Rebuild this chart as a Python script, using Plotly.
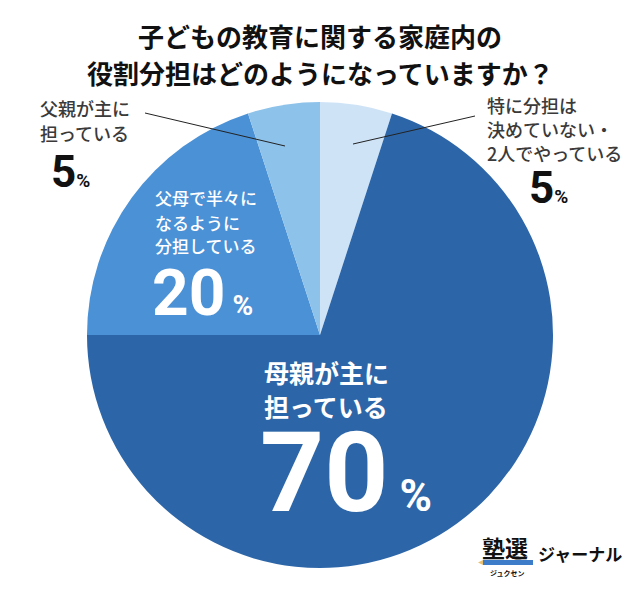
import plotly.graph_objects as go

W, H = 640, 595
categories = ["特に分担は決めていない・2人でやっている", "母親が主に担っている", "父母で半々になるように分担している", "父親が主に担っている"]
values = [5, 70, 20, 5]
colors = ["#CFE3F7", "#2D66A8", "#4B91D6", "#8DC2EA"]
title_lines = ["子どもの教育に関する家庭内の", "役割分担はどのようになっていますか？"]

JP = "Noto Sans CJK JP"
NUM = "Liberation Sans Narrow, Roboto, Arial"

def px(x):
    return x / W

def py(y):
    return 1 - y / H

cx, cy, r = 320, 335, 233

fig = go.Figure(go.Pie(
    labels=categories, values=values, sort=False, direction="clockwise", rotation=0,
    marker=dict(colors=colors, line=dict(width=0)), textinfo="none", hoverinfo="label+percent",
    domain=dict(x=[px(cx - r), px(cx + r)], y=[py(cy + r), py(cy - r)]),
    showlegend=False,
))

ann = []
def text(x, y, s, size, color="#333333", font=JP, anchor="left", yanchor="middle", weight=None):
    f = dict(size=size, color=color, family=font)
    if weight:
        f["weight"] = weight
    ann.append(dict(x=px(x), y=py(y), xref="paper", yref="paper", text=s, showarrow=False,
                    xanchor=anchor, yanchor=yanchor, font=f))

# title
text(320, 35, "<b>" + title_lines[0] + "</b>", 26, "#111111", anchor="center")
text(320, 72, "<b>" + title_lines[1] + "</b>", 26, "#111111", anchor="center")

# left outer label
text(38, 108, "父親が主に", 18, "#3a3a3a", weight=500)
text(38, 133, "担っている", 18, "#3a3a3a", weight=500)
text(49, 172, f"<b>{values[3]}</b><span style='font-size:19px'><b>%</b></span>", 44, "#111111", font=NUM)

# right outer label
text(485, 105, "特に分担は", 18, "#3a3a3a", weight=500)
text(485, 129, "決めていない・", 18, "#3a3a3a", weight=500)
text(485, 153, "2人でやっている", 18, "#3a3a3a", weight=500)
text(527, 188, f"<b>{values[0]}</b><span style='font-size:19px'><b>%</b></span>", 44, "#111111", font=NUM)

# medium slice label
text(153, 198, "父母で半々に", 17, "white", weight=500)
text(153, 222, "なるように", 17, "white", weight=500)
text(153, 246, "分担している", 17, "white", weight=500)
text(150, 293, f"<b>{values[2]}</b><span style='font-size:28px'><b> %</b></span>", 64, "white", font="Roboto")

# dark slice label
text(262, 372, "<b>母親が主に</b>", 25, "white")
text(262, 406, "<b>担っている</b>", 25, "white")
text(258, 473, f"<b>{values[1]}</b><span style='font-size:44px'><b> %</b></span>", 112, "white", font="Roboto")

# logo
text(480, 547, "<b>塾選</b>", 23, "#111111")
text(536, 553, "<b>ジャーナル</b>", 17, "#111111")
text(507, 573, "<b>ジュクセン</b>", 7, "#111111", anchor="center")

shapes = [
    dict(type="line", xref="paper", yref="paper", x0=px(145), y0=py(113), x1=px(285), y1=py(146),
         line=dict(color="#222222", width=1)),
    dict(type="line", xref="paper", yref="paper", x0=px(475), y0=py(116), x1=px(353), y1=py(144),
         line=dict(color="#222222", width=1)),
    dict(type="rect", xref="paper", yref="paper", x0=px(483), y0=py(565), x1=px(533), y1=py(560),
         fillcolor="#3D7CC9", line=dict(width=0)),
    dict(type="path", xref="paper", yref="paper",
         path=f"M {px(478)} {py(562.5)} L {px(483)} {py(560)} L {px(483)} {py(565)} Z",
         fillcolor="#E8C070", line=dict(width=0)),
]

fig.update_layout(width=W, height=H, margin=dict(l=0, r=0, t=0, b=0),
                  paper_bgcolor="white", plot_bgcolor="white",
                  annotations=ann, shapes=shapes)
fig.write_html("out.html")
